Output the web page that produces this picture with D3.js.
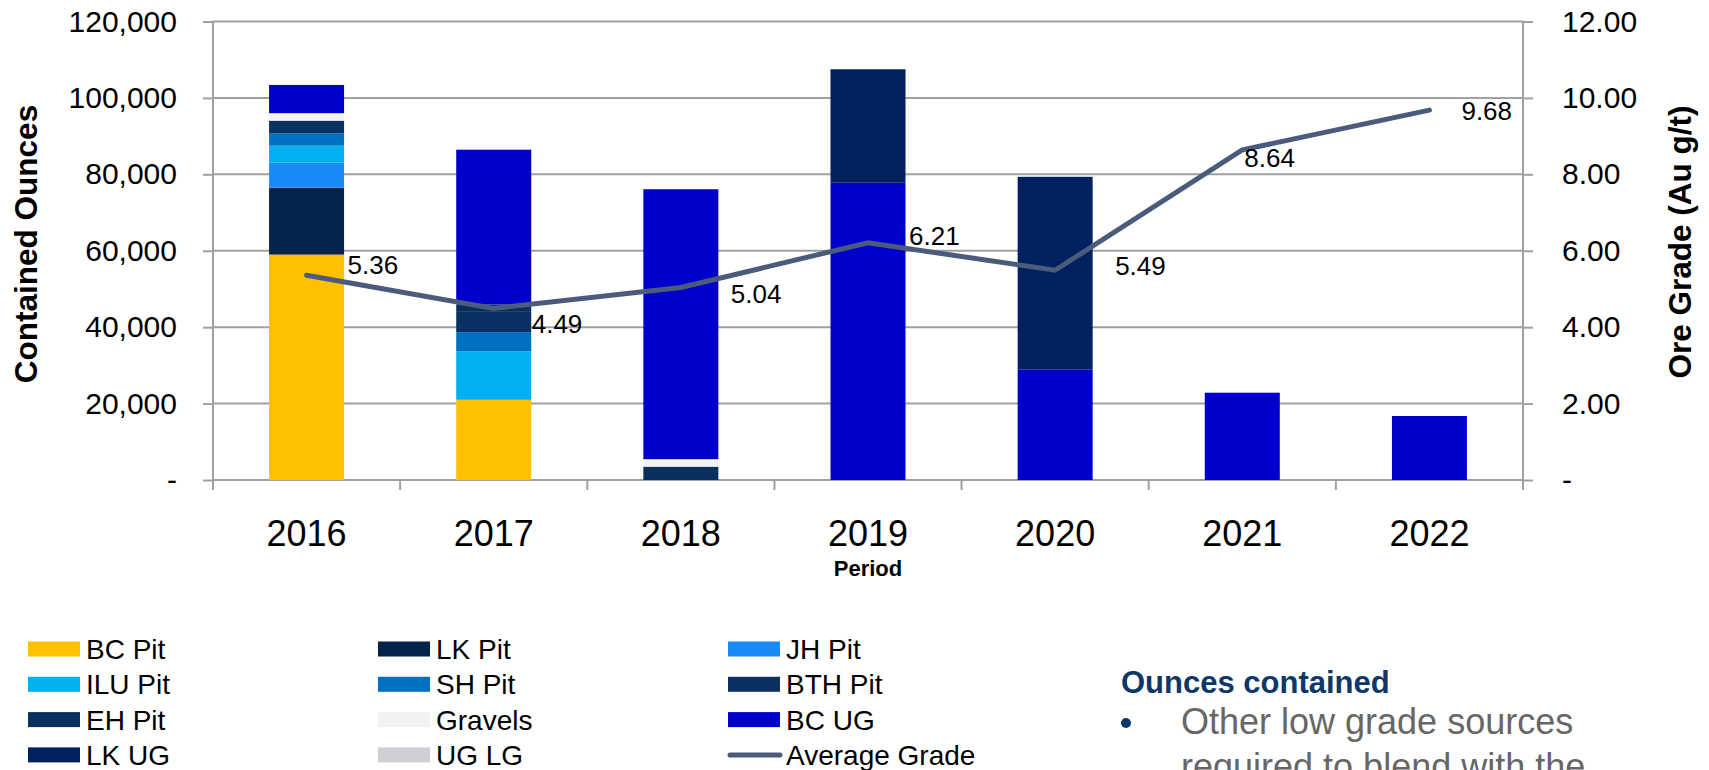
<!DOCTYPE html>
<html>
<head>
<meta charset="utf-8">
<script src="https://cdn.jsdelivr.net/npm/d3@7"></script>
<style>
  body { margin: 0; background: #fff; }
  svg { display: block; font-family: "Liberation Sans", Arial, sans-serif; }
</style>
</head>
<body>
<div id="chart"></div>
<script>
const w = 1709;
const h = 770;

// data
const years = ['2016', '2017', '2018', '2019', '2020', '2021', '2022'];
const bcPit   = [59000, 21000, 0, 0, 0, 0, 0];
const lkPit   = [17500, 0, 0, 0, 0, 0, 0];
const jhPit   = [6550, 0, 0, 0, 0, 0, 0];
const iluPit  = [4450, 12650, 0, 0, 0, 0, 0];
const shPit   = [3250, 5050, 0, 0, 0, 0, 0];
const bthPit  = [3300, 5500, 0, 0, 0, 0, 0];
const ehPit   = [0, 1750, 3500, 0, 0, 0, 0];
const gravels = [1950, 0, 1950, 0, 0, 0, 0];
const bcUG    = [7400, 40500, 70650, 77800, 28950, 22850, 16750];
const lkUG    = [0, 0, 0, 29700, 50400, 0, 0];
const ugLG    = [0, 0, 0, 0, 0, 0, 0];
const avgGrade = [5.36, 4.49, 5.04, 6.21, 5.49, 8.64, 9.68];

const leftTicks = [0, 20000, 40000, 60000, 80000, 100000, 120000];
const rightTicks = [0, 2, 4, 6, 8, 10, 12];

const seriesNames = ['BC Pit', 'LK Pit', 'JH Pit', 'ILU Pit', 'SH Pit', 'BTH Pit',
  'EH Pit', 'Gravels', 'BC UG', 'LK UG', 'UG LG'];
const seriesValues = [bcPit, lkPit, jhPit, iluPit, shPit, bthPit, ehPit, gravels, bcUG, lkUG, ugLG];
const seriesColors = ['#FFC000', '#03234A', '#1A8AF8', '#00B0F0', '#0070C0', '#0A3161',
  '#08305E', '#F2F2F2', '#0000CC', '#002060', '#CFD0D6'];
const lineColor = '#4B5B7C';

// label nudges for the grade labels (dx, dy from the point)
const labelNudge = [[41, -10], [38, 15], [50, 6], [41, -7], [60, -4], [2, 8], [32, 1]];

const rows = years.map((yr, i) => {
  const r = { year: yr };
  seriesNames.forEach((n, k) => r[n] = seriesValues[k][i]);
  return r;
});

const plotLeft = 213, plotRight = 1523, plotTop = 21.5, plotBottom = 480;

const svg = d3.select('#chart')
  .append('svg')
  .attr('width', w)
  .attr('height', h)
  .style('background-color', '#fff');

const x = d3.scaleBand().domain(years).range([plotLeft, plotRight]).paddingInner(0).paddingOuter(0);
const y = d3.scaleLinear().domain([0, 120000]).range([plotBottom, plotTop]);
const y2 = d3.scaleLinear().domain([0, 12]).range([plotBottom, plotTop]);

const gridColor = '#A0A0A0';

// gridlines
svg.append('g')
  .selectAll('line')
  .data(leftTicks)
  .enter()
  .append('line')
  .attr('x1', plotLeft)
  .attr('x2', plotRight)
  .attr('y1', d => y(d))
  .attr('y2', d => y(d))
  .attr('stroke', gridColor)
  .attr('stroke-width', 2);

// bars
const stack = d3.stack().keys(seriesNames)(rows);
const barW = 75;
svg.append('g')
  .selectAll('g')
  .data(stack)
  .enter()
  .append('g')
  .attr('fill', (d, i) => seriesColors[i])
  .selectAll('rect')
  .data(d => d)
  .enter()
  .append('rect')
  .attr('x', d => x(d.data.year) + x.bandwidth() / 2 - barW / 2)
  .attr('width', barW)
  .attr('y', d => y(d[1]))
  .attr('height', d => y(d[0]) - y(d[1]));

// axes
const fmtLeft = d => d === 0 ? '-' : d3.format(',')(d);
const fmtRight = d => d === 0 ? '-' : d3.format('.2f')(d);

const yAxis = d3.axisLeft(y).tickValues(leftTicks).tickFormat(fmtLeft).tickSize(10).tickPadding(26);
const y2Axis = d3.axisRight(y2).tickValues(rightTicks).tickFormat(fmtRight).tickSize(10).tickPadding(29);
const xAxis = d3.axisBottom(x).tickSize(0).tickPadding(40);

const styleAxis = g => {
  g.selectAll('path.domain').attr('stroke', gridColor).attr('stroke-width', 2);
  g.selectAll('.tick line').attr('stroke', gridColor).attr('stroke-width', 2);
  g.selectAll('text').attr('fill', '#000').style('font-family', '"Liberation Sans", Arial, sans-serif');
};

svg.append('g')
  .attr('transform', 'translate(' + plotLeft + ',0)')
  .call(yAxis)
  .call(g => g.select('.domain').attr('d', 'M0,' + plotTop + 'V' + (plotBottom + 10)))
  .call(styleAxis)
  .selectAll('text').style('font-size', '30px');

svg.append('g')
  .attr('transform', 'translate(' + plotRight + ',0)')
  .call(y2Axis)
  .call(g => g.select('.domain').attr('d', 'M0,' + plotTop + 'V' + (plotBottom + 10)))
  .call(styleAxis)
  .selectAll('text').style('font-size', '30px');

const xg = svg.append('g')
  .attr('transform', 'translate(0,' + plotBottom + ')')
  .call(xAxis)
  .call(g => g.select('.domain').remove())
  .call(styleAxis);
xg.selectAll('text').style('font-size', '36px').attr('dy', '0.71em');

// category boundary ticks
xg.selectAll('line.bound')
  .data(years.concat(['end']))
  .enter()
  .append('line')
  .attr('class', 'bound')
  .attr('x1', (d, i) => plotLeft + i * x.bandwidth())
  .attr('x2', (d, i) => plotLeft + i * x.bandwidth())
  .attr('y1', 0)
  .attr('y2', 10)
  .attr('stroke', gridColor)
  .attr('stroke-width', 2);

// axis titles
svg.append('text')
  .attr('transform', 'translate(37,244) rotate(-90)')
  .attr('text-anchor', 'middle')
  .style('font-size', '31.5px')
  .style('font-weight', 'bold')
  .text('Contained Ounces');

svg.append('text')
  .attr('transform', 'translate(1691,242) rotate(-90)')
  .attr('text-anchor', 'middle')
  .style('font-size', '31.5px')
  .style('font-weight', 'bold')
  .text('Ore Grade (Au g/t)');

svg.append('text')
  .attr('x', (plotLeft + plotRight) / 2)
  .attr('y', 576)
  .attr('text-anchor', 'middle')
  .style('font-size', '22px')
  .style('font-weight', 'bold')
  .text('Period');

// average grade line
const line = d3.line()
  .x((d, i) => x(years[i]) + x.bandwidth() / 2)
  .y(d => y2(d));

svg.append('path')
  .datum(avgGrade)
  .attr('d', line)
  .attr('fill', 'none')
  .attr('stroke', lineColor)
  .attr('stroke-width', 5)
  .attr('stroke-linecap', 'round')
  .attr('stroke-linejoin', 'miter');

svg.append('g')
  .selectAll('text')
  .data(avgGrade)
  .enter()
  .append('text')
  .attr('x', (d, i) => x(years[i]) + x.bandwidth() / 2 + labelNudge[i][0])
  .attr('y', (d, i) => y2(d) + labelNudge[i][1])
  .attr('dy', '0.35em')
  .style('font-size', '26px')
  .text(d => d3.format('.2f')(d));

// legend
const legendItems = seriesNames.map((n, i) => ({ name: n, color: seriesColors[i], type: 'box' }))
  .concat([{ name: 'Average Grade', color: lineColor, type: 'line' }]);

const legend = svg.append('g')
  .selectAll('g')
  .data(legendItems)
  .enter()
  .append('g')
  .attr('transform', (d, i) => 'translate(' + (28 + (i % 3) * 350) + ',' + (649 + Math.floor(i / 3) * 35.3) + ')');

legend.filter(d => d.type === 'box')
  .append('rect')
  .attr('x', 0)
  .attr('y', -7.5)
  .attr('width', 52)
  .attr('height', 15)
  .attr('fill', d => d.color);

legend.filter(d => d.type === 'line')
  .append('line')
  .attr('x1', 2).attr('x2', 52)
  .attr('y1', 0).attr('y2', 0)
  .attr('stroke', d => d.color)
  .attr('stroke-width', 5)
  .attr('stroke-linecap', 'round');

legend.append('text')
  .attr('x', 58)
  .attr('y', 0)
  .attr('dy', '0.36em')
  .style('font-size', '28px')
  .text(d => d.name);

// side note
svg.append('text')
  .attr('x', 1121)
  .attr('y', 693)
  .style('font-size', '31px')
  .style('font-weight', 'bold')
  .attr('fill', '#0B3868')
  .text('Ounces contained');

svg.append('circle')
  .attr('cx', 1126)
  .attr('cy', 723)
  .attr('r', 5)
  .attr('fill', '#0B3868');

svg.append('text')
  .attr('x', 1181)
  .attr('y', 734)
  .style('font-size', '36px')
  .attr('fill', '#666')
  .text('Other low grade sources');

svg.append('text')
  .attr('x', 1181)
  .attr('y', 779)
  .style('font-size', '36px')
  .attr('fill', '#666')
  .text('required to blend with the');
</script>
</body>
</html>
